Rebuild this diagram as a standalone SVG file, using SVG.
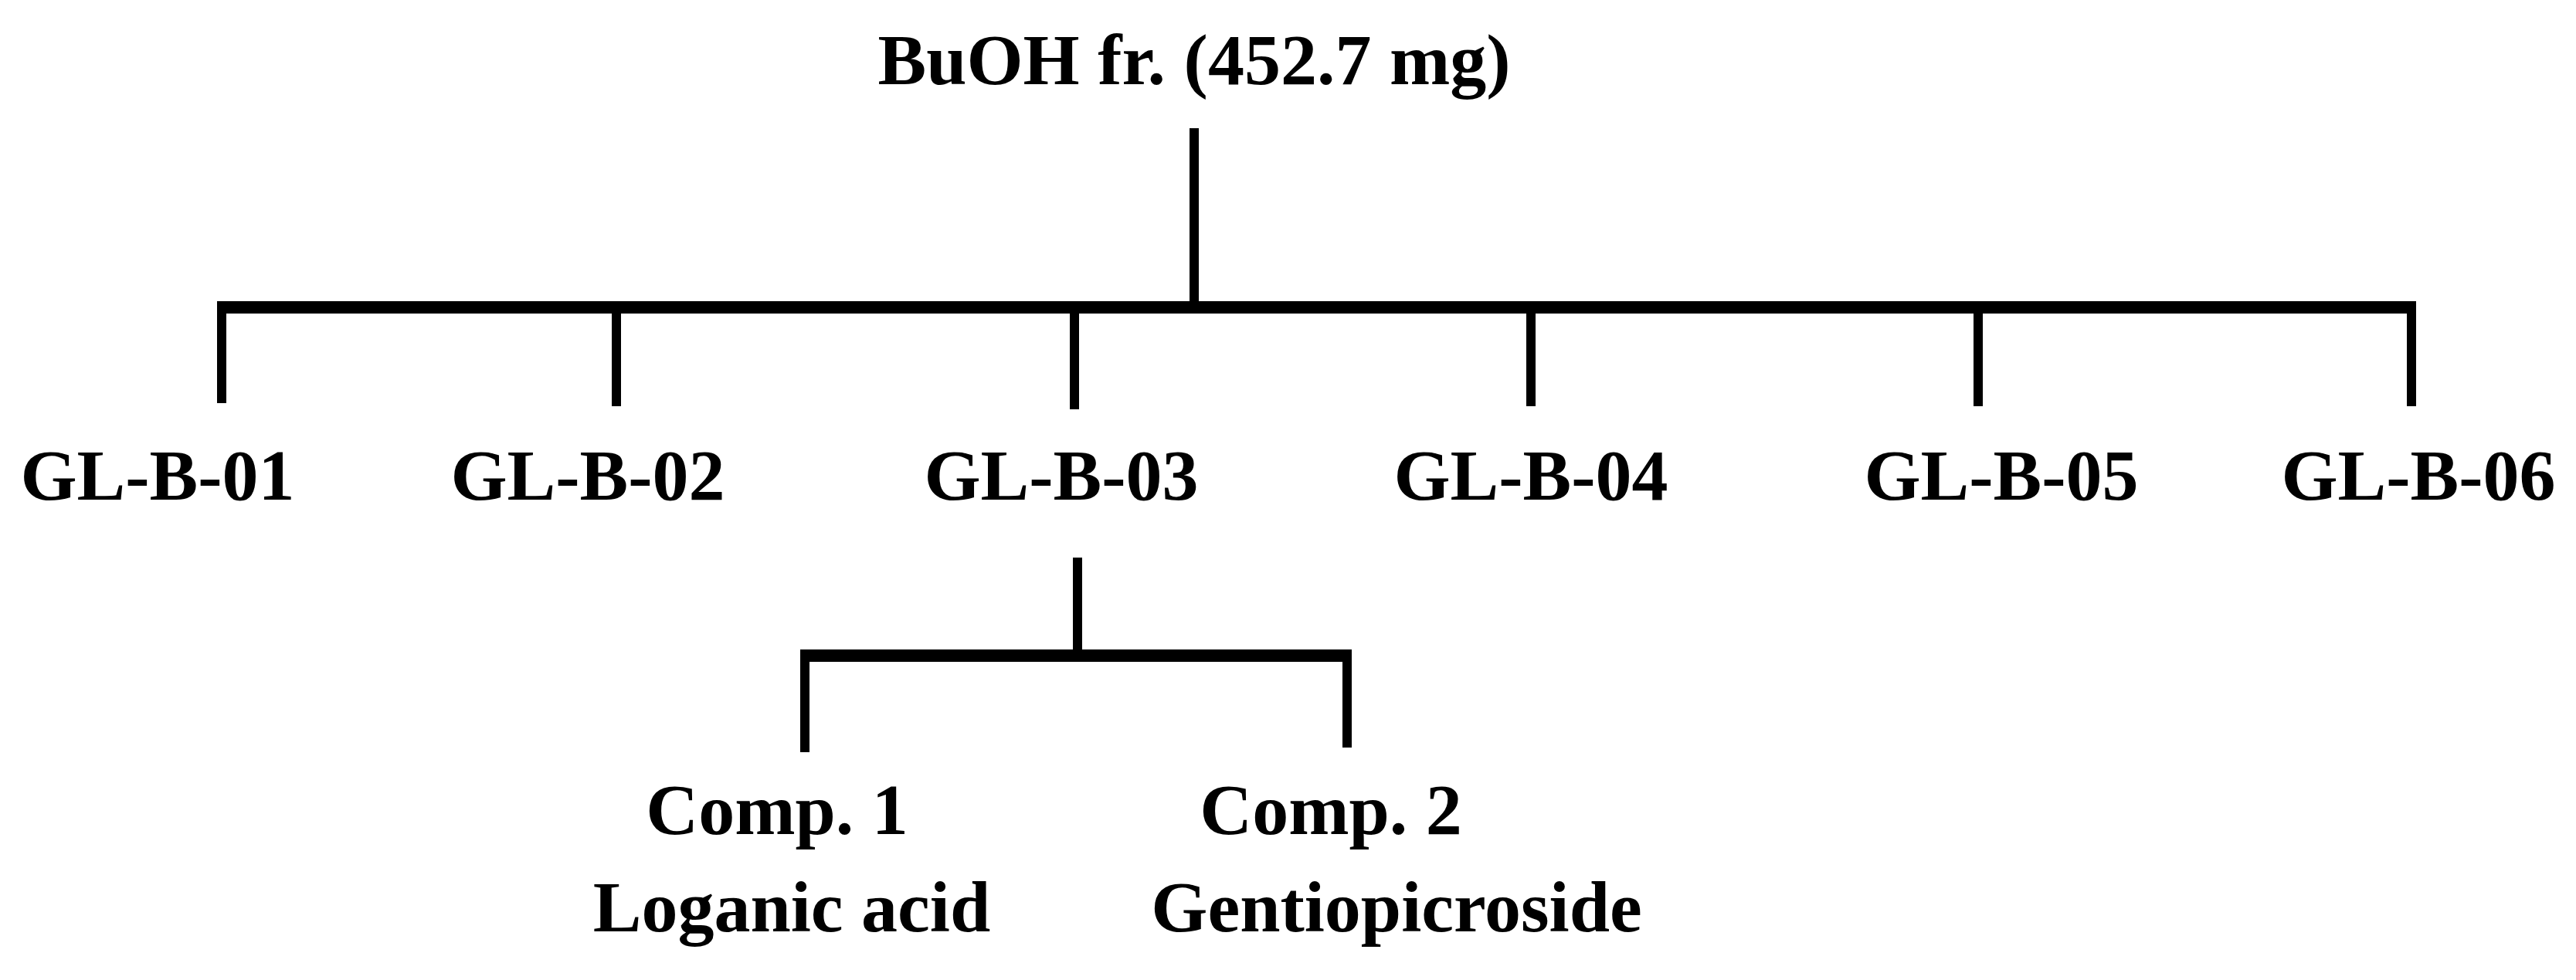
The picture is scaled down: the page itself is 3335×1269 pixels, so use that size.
<svg xmlns="http://www.w3.org/2000/svg" width="3335" height="1269" viewBox="0 0 3335 1269">
<style>
text{font-family:"Liberation Serif","Times New Roman",serif;font-weight:bold;font-size:94px;fill:#000;text-anchor:middle}
.c line{stroke:#000;stroke-width:12}
.c .b{stroke-width:16}
</style>
<rect width="3335" height="1269" fill="#fff"/>
<g class="c" id="connectors">
<line x1="1546" y1="166" x2="1546" y2="398"/>
<line class="b" x1="281" y1="398" x2="3128" y2="398"/>
<line x1="287" y1="398" x2="287" y2="522"/>
<line x1="798" y1="398" x2="798" y2="526"/>
<line x1="1391" y1="398" x2="1391" y2="530"/>
<line x1="1982" y1="398" x2="1982" y2="526"/>
<line x1="2561" y1="398" x2="2561" y2="526"/>
<line x1="3122" y1="398" x2="3122" y2="526"/>
<line x1="1395" y1="722" x2="1395" y2="849"/>
<line class="b" x1="1036" y1="849" x2="1750" y2="849"/>
<line x1="1042" y1="849" x2="1042" y2="974"/>
<line x1="1744" y1="849" x2="1744" y2="968"/>
</g>
<g id="root"><text x="1546" y="109">BuOH fr. (452.7 mg)</text></g>
<g id="n1"><text x="204" y="647">GL-B-01</text></g>
<g id="n2"><text x="761" y="647">GL-B-02</text></g>
<g id="n3"><text x="1374" y="647">GL-B-03</text></g>
<g id="n4"><text x="1982" y="647">GL-B-04</text></g>
<g id="n5"><text x="2591" y="647">GL-B-05</text></g>
<g id="n6"><text x="3131" y="647">GL-B-06</text></g>
<g id="c1"><text x="1006" y="1080">Comp. 1</text><text x="1025" y="1206">Loganic acid</text></g>
<g id="c2"><text x="1723" y="1080">Comp. 2</text><text x="1808" y="1206">Gentiopicroside</text></g>
</svg>
